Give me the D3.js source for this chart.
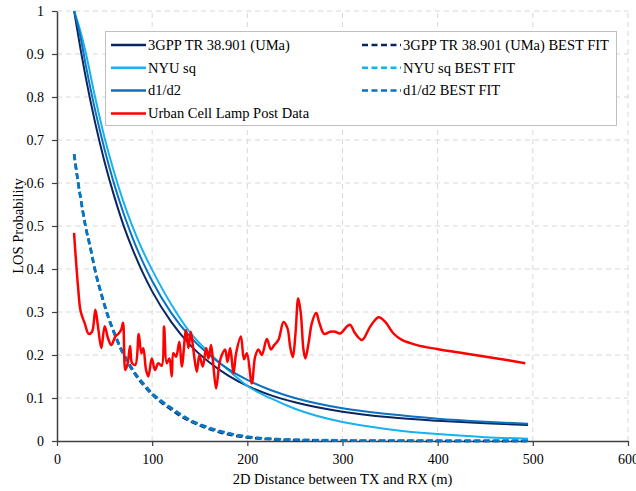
<!DOCTYPE html>
<html>
<head>
<meta charset="utf-8">
<script src="https://cdn.jsdelivr.net/npm/d3@7"></script>
<style>
  body { margin: 0; background: #fff; }
  text { font-family: 'Liberation Serif', 'Times New Roman', serif; fill: #000; }
</style>
</head>
<body>
<div class="chart-container"></div>
<script>
// distances (m) for the model curves
let modelDist = [18, 25, 30, 40, 50, 60, 70, 80, 90, 100, 120, 140, 160, 180, 200, 225, 250, 300, 350, 400, 450, 495]
let gppUma = [1, 0.908, 0.848, 0.741, 0.649, 0.570, 0.501, 0.443, 0.392, 0.348, 0.277, 0.223, 0.183, 0.152, 0.128, 0.106, 0.090, 0.068, 0.055, 0.047, 0.041, 0.037]
let nyuSq = [1, 0.95, 0.905, 0.80, 0.705, 0.625, 0.555, 0.495, 0.443, 0.398, 0.318, 0.252, 0.205, 0.165, 0.128, 0.099, 0.075, 0.044, 0.027, 0.016, 0.009, 0.005]
let d1d2 = [1, 0.936, 0.877, 0.770, 0.678, 0.598, 0.529, 0.469, 0.417, 0.372, 0.298, 0.242, 0.200, 0.167, 0.142, 0.118, 0.100, 0.076, 0.062, 0.052, 0.045, 0.040]

// best fit curves
let fitDist = [18, 22, 26, 30, 35, 40, 47, 54, 61, 68, 75, 82, 90, 100, 110, 120, 130, 140, 155, 170, 185, 200, 225, 250, 300, 350, 400, 495]
let gppFit = [0.667, 0.603, 0.548, 0.498, 0.449, 0.396, 0.337, 0.286, 0.245, 0.209, 0.180, 0.155, 0.132, 0.108, 0.089, 0.073, 0.058, 0.046, 0.032, 0.021, 0.013, 0.008, 0.004, 0.002, 0.001, 0.0004, 0.0002, 0.0001]
let nyuFit = [0.667, 0.604, 0.549, 0.499, 0.451, 0.397, 0.339, 0.288, 0.247, 0.211, 0.182, 0.157, 0.135, 0.110, 0.092, 0.076, 0.061, 0.048, 0.034, 0.023, 0.015, 0.010, 0.005, 0.003, 0.002, 0.002, 0.002, 0.002]
let d1d2Fit = [0.667, 0.605, 0.55, 0.5, 0.452, 0.398, 0.34, 0.289, 0.248, 0.212, 0.183, 0.158, 0.136, 0.111, 0.093, 0.077, 0.062, 0.049, 0.035, 0.024, 0.016, 0.010, 0.005, 0.003, 0.001, 0.0005, 0.0003, 0.0002]

// measured data
let lampDist = [17.9, 22.1, 24.9, 29.1, 33.3, 36.8, 40.3, 43.1, 46.6, 50.1, 53.6, 57.1, 61.3, 64.8, 67.6, 69.4, 71.8, 74.3, 76.8, 78.9,
  82.3, 85.9, 88.6, 90.7, 93.6, 96, 99.6, 103, 106.5, 110, 112.5, 115.3, 118.1, 120.6, 122.3, 125.1, 128.6, 131.1, 135.6, 138.1,
  140.6, 143.3, 146.9, 149.6, 153.2, 156.7, 159.1, 161.9, 164.4, 167.2, 170.7, 173.2, 176.7, 179.1, 182, 185.4, 188.2, 193.2, 196.5, 199.5,
  204.7, 208.2, 211.7, 215.2, 220.5, 224.7, 228.2, 232.7, 238, 242.2, 245, 247.8, 250.6, 253.5, 256.2, 259, 261, 264.3, 267.8, 272.3,
  275.8, 280.8, 287, 292.3, 297.6, 304.6, 308.1, 313.4, 320.6, 329.1, 337.9, 344.9, 353.6, 362.4, 378.2, 399.3, 427.3, 462.4, 492.1]
let lampLos = [0.484, 0.359, 0.301, 0.274, 0.249, 0.254, 0.305, 0.266, 0.216, 0.267, 0.239, 0.223, 0.243, 0.25, 0.26, 0.275, 0.165, 0.181, 0.221, 0.181,
  0.177, 0.249, 0.204, 0.216, 0.165, 0.15, 0.192, 0.165, 0.181, 0.175, 0.266, 0.181, 0.192, 0.15, 0.204, 0.196, 0.231, 0.173, 0.258, 0.216,
  0.254, 0.212, 0.161, 0.2, 0.173, 0.216, 0.192, 0.223, 0.173, 0.122, 0.181, 0.2, 0.213, 0.184, 0.216, 0.157, 0.204, 0.243, 0.19, 0.204,
  0.134, 0.196, 0.213, 0.2, 0.237, 0.213, 0.223, 0.235, 0.277, 0.262, 0.219, 0.195, 0.25, 0.332, 0.297, 0.212, 0.192, 0.227, 0.274, 0.298,
  0.274, 0.249, 0.254, 0.254, 0.25, 0.266, 0.27, 0.25, 0.235, 0.266, 0.288, 0.277, 0.25, 0.235, 0.223, 0.214, 0.204, 0.192, 0.181]

let xTicks = [0, 100, 200, 300, 400, 500, 600]
let yTicks = [0, 0.1, 0.2, 0.3, 0.4, 0.5, 0.6, 0.7, 0.8, 0.9, 1]

let width = 636,
    height = 491,
    margin = { top: 11, right: 8, bottom: 50, left: 57 }

let x = d3.scaleLinear().domain([0, 600]).range([margin.left, width - margin.right])
let y = d3.scaleLinear().domain([0, 1]).range([height - margin.bottom, margin.top])

let series = [
  { name: '3GPP TR 38.901 (UMa)', xs: modelDist, ys: gppUma, color: '#0B2560', dash: null, w: 2 },
  { name: '3GPP TR 38.901 (UMa) BEST FIT', xs: fitDist, ys: gppFit, color: '#0B2560', dash: '6,3.5', w: 2.5 },
  { name: 'NYU sq', xs: modelDist, ys: nyuSq, color: '#19B2EE', dash: null, w: 2 },
  { name: 'NYU sq BEST FIT', xs: fitDist, ys: nyuFit, color: '#19B2EE', dash: '6,3.5', w: 2.5 },
  { name: 'd1/d2', xs: modelDist, ys: d1d2, color: '#0A72C0', dash: null, w: 2 },
  { name: 'd1/d2 BEST FIT', xs: fitDist, ys: d1d2Fit, color: '#0A72C0', dash: '6,3.5', w: 2.5 },
  { name: 'Urban Cell Lamp Post Data', xs: lampDist, ys: lampLos, color: '#FF0000', dash: null, w: 2.5 }
]

let svg = d3.select('.chart-container')
  .append('svg')
  .attr('width', width)
  .attr('height', height)

svg.append('rect').attr('width', width).attr('height', height).attr('fill', '#fff')

// grid
svg.append('g')
  .selectAll('line')
  .data(yTicks.slice(1))
  .enter()
  .append('line')
  .attr('x1', x(0)).attr('x2', x(600))
  .attr('y1', d => y(d)).attr('y2', d => y(d))
  .attr('stroke', '#d9d9d9')
  .attr('stroke-dasharray', '5,4')

svg.append('g')
  .selectAll('line')
  .data(xTicks.slice(1))
  .enter()
  .append('line')
  .attr('x1', d => x(d)).attr('x2', d => x(d))
  .attr('y1', y(0)).attr('y2', y(1))
  .attr('stroke', '#d9d9d9')
  .attr('stroke-dasharray', '5,4')

// axes
let xAxis = svg.append('g')
  .attr('transform', `translate(0,${y(0)})`)
  .call(d3.axisBottom(x).tickValues(xTicks).tickSize(5).tickSizeOuter(0).tickFormat(d3.format('d')))
let yAxis = svg.append('g')
  .attr('transform', `translate(${x(0)},0)`)
  .call(d3.axisLeft(y).tickValues(yTicks).tickSize(5).tickSizeOuter(0).tickFormat(d => d === 0 || d === 1 ? d : d.toFixed(1)))

;[xAxis, yAxis].forEach(a => {
  a.select('.domain').attr('stroke', '#404040').attr('stroke-width', 1.5)
  a.selectAll('.tick line').attr('stroke', '#404040').attr('stroke-width', 1.2)
  a.selectAll('text').style('font-family', "'Liberation Serif', serif").style('font-size', '14px').attr('fill', '#000')
})
xAxis.selectAll('text').attr('dy', '1.05em')
yAxis.selectAll('text').attr('x', -13)

svg.append('text')
  .attr('x', (x(0) + x(600)) / 2)
  .attr('y', 484)
  .attr('text-anchor', 'middle')
  .style('font-size', '14.5px')
  .text('2D Distance between TX and RX (m)')

svg.append('text')
  .attr('transform', `translate(23,${(y(0) + y(1)) / 2}) rotate(-90)`)
  .attr('text-anchor', 'middle')
  .style('font-size', '14.5px')
  .text('LOS Probability')

// lines
let line = d3.line()
  .x(d => x(d[0]))
  .y(d => y(d[1]))

series.forEach(s => {
  let pts = s.xs.map((v, i) => [v, s.ys[i]])
  svg.append('path')
    .datum(pts)
    .attr('fill', 'none')
    .attr('stroke', s.color)
    .attr('stroke-width', s.w)
    .attr('stroke-dasharray', s.dash)
    .attr('stroke-linejoin', 'round')
    .attr('d', line.curve(s.name.startsWith('Urban') ? d3.curveCatmullRom.alpha(0.5) : d3.curveMonotoneX))
})

// legend
let legend = svg.append('g')
legend.append('rect')
  .attr('x', 105.5).attr('y', 31.5)
  .attr('width', 511).attr('height', 94)
  .attr('fill', '#fff')
  .attr('stroke', '#bfbfbf')

let items = legend.selectAll('.item')
  .data(series)
  .enter()
  .append('g')
  .attr('class', 'item')
  .attr('transform', (d, i) => `translate(${i % 2 === 0 ? 111 : 362},${45 + Math.floor(i / 2) * 22.8})`)

items.append('line')
  .attr('x1', 0).attr('x2', d => d.dash ? 39 : 35)
  .attr('stroke', d => d.color)
  .attr('stroke-width', 2.5)
  .attr('stroke-dasharray', d => d.dash)

items.append('text')
  .attr('x', (d, i) => i % 2 === 0 ? 37 : 41)
  .attr('dy', '0.33em')
  .style('font-size', '14.5px')
  .text(d => d.name)
</script>
</body>
</html>
